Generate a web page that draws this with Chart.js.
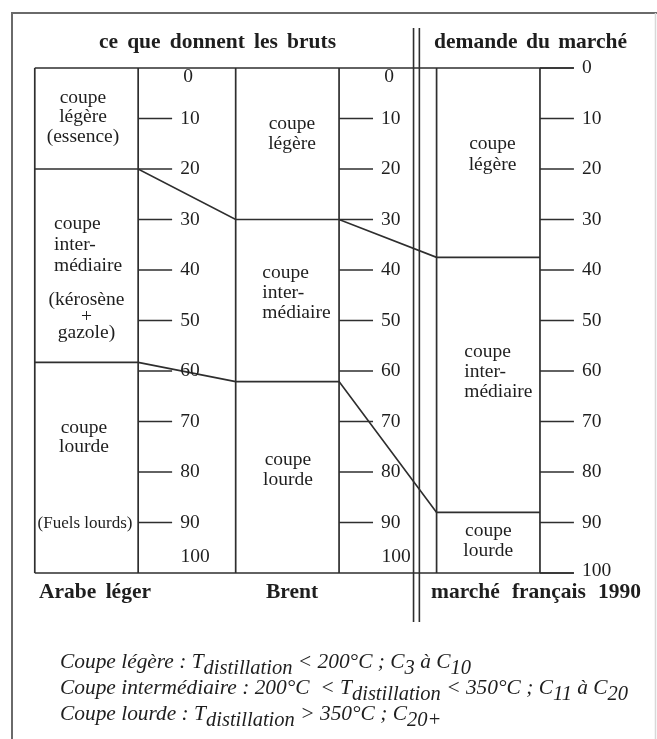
<!DOCTYPE html>
<html><head><meta charset="utf-8">
<script src="https://cdn.jsdelivr.net/npm/chart.js@4"></script>
<style>html,body{margin:0;padding:0;background:#fff}</style>
</head><body>
<canvas id="c" width="657" height="739"></canvas>
<script>
// ---------- DATA ----------
const crudes = ["Arabe léger", "Brent", "marché français 1990"];
const lightCut  = [20.0, 30.0, 37.5];   // % coupe légère
const middleCut = [38.3, 32.1, 50.5];   // % coupe intermédiaire
const heavyCut  = [41.7, 37.9, 12.0];   // % coupe lourde
const tickValues = [0, 10, 20, 30, 40, 50, 60, 70, 80, 90, 100];
const tickLabels = ["0", "10", "20", "30", "40", "50", "60", "70", "80", "90", "100"];
const topTitles = ["ce que donnent les bruts", "demande du marché"];
const cutLabels = [
  [["coupe", "légère", "(essence)"], ["coupe", "inter-", "médiaire"], ["coupe", "lourde"]],
  [["coupe", "légère"], ["coupe", "inter-", "médiaire"], ["coupe", "lourde"]],
  [["coupe", "légère"], ["coupe", "inter-", "médiaire"], ["coupe", "lourde"]]
];
const arabeNotes = [["(kérosène", "+", "gazole)"], ["(Fuels lourds)"]];
const footnote = [
  [["Coupe légère : T", 0], ["distillation", 1], [" < 200°C ; C", 0], ["3", 1], [" à C", 0], ["10", 1]],
  [["Coupe intermédiaire : 200°C  < T", 0], ["distillation", 1], [" < 350°C ; C", 0], ["11", 1], [" à C", 0], ["20", 1]],
  [["Coupe lourde : T", 0], ["distillation", 1], [" > 350°C ; C", 0], ["20+", 1]]
];

// ---------- LAYOUT ----------
const HW = 0.2573;   // half box width (column units)
const TL = 0.169;    // tick length (column units)
const SEP = [1.628, 1.657]; // double separator
const INK = '#2e2e2e';
const SERIF = '"Liberation Serif", "Times New Roman", serif';

const cum1 = lightCut.slice();
const cum2 = lightCut.map((v, i) => v + middleCut[i]);

function seg(pts, w) {
  return { type: 'scatter', showLine: true, data: pts, borderColor: INK, backgroundColor: INK,
           borderWidth: w || 1.7, pointRadius: 0, pointHoverRadius: 0, fill: false, clip: false, tension: 0 };
}
const datasets = [];
const last = crudes.length - 1;
// frame top & bottom lines
datasets.push(seg([{x: -HW, y: 0}, {x: last + HW + TL, y: 0}]));
datasets.push(seg([{x: -HW, y: 100}, {x: last + HW + TL, y: 100}]));
// box edges
crudes.forEach((_, i) => {
  datasets.push(seg([{x: i - HW, y: 0}, {x: i - HW, y: 100}]));
  datasets.push(seg([{x: i + HW, y: 0}, {x: i + HW, y: 100}]));
});
// boundaries between cuts, joined between columns
[cum1, cum2].forEach(cum => {
  const pts = [];
  cum.forEach((v, i) => { pts.push({x: i - HW, y: v}); pts.push({x: i + HW, y: v}); });
  datasets.push(seg(pts));
});
// tick marks
crudes.forEach((_, i) => {
  tickValues.forEach(v => {
    if (i < last && (v === 0 || v === 100)) return;
    datasets.push(seg([{x: i + HW, y: v}, {x: i + HW + TL, y: v}]));
  });
});
// double separator
SEP.forEach(sx => datasets.push(seg([{x: sx, y: -7.9}, {x: sx, y: 109.7}], 1.6)));

const labelLayout = [
  [{dx: -3.5, v: 5.9, align: 'center', lh: 19.5}, {dx: -32.5, v: 30.8, align: 'left', lh: 21}, {dx: -2.5, v: 71.2, align: 'center', lh: 19.5}],
  [{dx: 4.6, v: 11.0, align: 'center', lh: 20}, {dx: -25, v: 40.5, align: 'left', lh: 20}, {dx: 0.6, v: 77.5, align: 'center', lh: 20}],
  [{dx: 4.2, v: 15.1, align: 'center', lh: 21}, {dx: -24, v: 56.3, align: 'left', lh: 20}, {dx: 0, v: 91.6, align: 'center', lh: 20}]
];
const noteLayout = [{dx: 0, v: 46.0, lh: 16.5, size: 19.5}, {dx: -1.5, v: 90.3, lh: 18, size: 17}];
const titleSpans = [[99, 336], [434, 627]];
const bottomSpans = [[39, 151], [266, 318], [431, 641]];

function spreadText(ctx, text, x0, x1, y) {
  const words = text.split(' ');
  const widths = words.map(w => ctx.measureText(w).width);
  const total = widths.reduce((a, b) => a + b, 0);
  const gap = words.length > 1 ? (x1 - x0 - total) / (words.length - 1) : 0;
  let x = words.length > 1 ? x0 : (x0 + x1 - total) / 2;
  ctx.textAlign = 'left';
  words.forEach((w, k) => { ctx.fillText(w, x, y); x += widths[k] + gap; });
}

const textPlugin = {
  id: 'texts',
  beforeDraw(chart) {
    const ctx = chart.ctx;
    ctx.save();
    ctx.fillStyle = '#fff';
    ctx.fillRect(0, 0, chart.width, chart.height);
    ctx.strokeStyle = '#6a6a6a';
    ctx.lineWidth = 2;
    ctx.beginPath();
    ctx.moveTo(12, 739); ctx.lineTo(12, 13); ctx.lineTo(657, 13);
    ctx.stroke();
    ctx.strokeStyle = '#d8d8d8';
    ctx.lineWidth = 1.5;
    ctx.beginPath(); ctx.moveTo(655.5, 13); ctx.lineTo(655.5, 739); ctx.stroke();
    ctx.restore();
  },
  afterDraw(chart) {
    const ctx = chart.ctx;
    const xs = chart.scales.x, ys = chart.scales.y;
    ctx.save();
    ctx.fillStyle = '#1e1e1e';
    ctx.textBaseline = 'middle';
    // titles
    ctx.font = 'bold 21.5px ' + SERIF;
    topTitles.forEach((t, k) => spreadText(ctx, t, titleSpans[k][0], titleSpans[k][1], 42));
    crudes.forEach((t, k) => spreadText(ctx, t, bottomSpans[k][0], bottomSpans[k][1], 592));
    // cut labels
    ctx.font = '19.5px ' + SERIF;
    cutLabels.forEach((col, i) => {
      const cx = xs.getPixelForValue(i);
      col.forEach((lines, k) => {
        const L = labelLayout[i][k];
        ctx.textAlign = L.align;
        const y0 = ys.getPixelForValue(L.v);
        lines.forEach((s, n) => ctx.fillText(s, cx + L.dx, y0 + n * L.lh));
      });
    });
    // Arabe notes
    const ax = xs.getPixelForValue(0);
    arabeNotes.forEach((lines, k) => {
      const L = noteLayout[k];
      ctx.font = L.size + 'px ' + SERIF;
      ctx.textAlign = 'center';
      const y0 = ys.getPixelForValue(L.v);
      lines.forEach((s, n) => ctx.fillText(s, ax + L.dx, y0 + n * L.lh));
    });
    // tick labels
    ctx.font = '19.5px ' + SERIF;
    crudes.forEach((_, i) => {
      const ex = xs.getPixelForValue(i + HW);
      tickValues.forEach((v, n) => {
        const y = ys.getPixelForValue(v);
        if (i < last && v === 0) { ctx.textAlign = 'center'; ctx.fillText(tickLabels[n], ex + 50, y + 9); }
        else if (i < last && v === 100) { ctx.textAlign = 'center'; ctx.fillText(tickLabels[n], ex + 57, y - 16); }
        else { ctx.textAlign = 'left'; ctx.fillText(tickLabels[n], ex + 42, v === 100 ? y - 2 : y); }
      });
    });
    // footnote
    ctx.textBaseline = 'alphabetic';
    ctx.textAlign = 'left';
    const base = [668, 694, 720];
    footnote.forEach((segs, r) => {
      let x = 60;
      segs.forEach(([t, sub]) => {
        ctx.font = 'italic ' + (sub ? 20.5 : 21.4) + 'px ' + SERIF;
        ctx.fillText(t, x, base[r] + (sub ? 6 : 0));
        x += ctx.measureText(t).width;
      });
    });
    ctx.restore();
  }
};

new Chart(document.getElementById('c'), {
  type: 'scatter',
  data: { datasets },
  options: {
    responsive: false,
    animation: false,
    events: [],
    layout: { padding: { left: 26.2, right: 8, top: 68, bottom: 166 } },
    plugins: { legend: { display: false }, tooltip: { enabled: false } },
    scales: {
      x: { type: 'linear', display: false, min: -0.3, max: 2.8 },
      y: { type: 'linear', display: false, reverse: true, min: 0, max: 100 }
    }
  },
  plugins: [textPlugin]
});
</script>
</body></html>
